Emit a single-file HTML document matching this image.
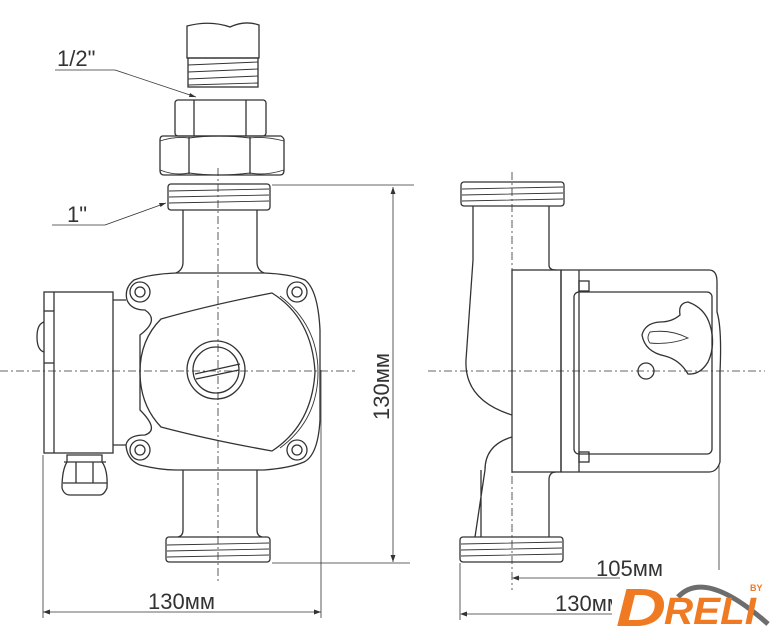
<!DOCTYPE html>
<html><head><meta charset="utf-8"><style>
html,body{margin:0;padding:0;background:#fff;}
svg{display:block;}
text{font-family:"Liberation Sans",sans-serif;fill:#333;}
</style></head><body>
<svg width="783" height="640" viewBox="0 0 783 640" xmlns="http://www.w3.org/2000/svg">
<g fill="none" stroke="#333" stroke-width="1.3">
<line x1="0" y1="371" x2="355" y2="371" stroke-dasharray="8,3,2,3" stroke-width="0.8"/>
<line x1="218" y1="168" x2="218" y2="582" stroke-dasharray="8,3,2,3" stroke-width="0.8"/>
<line x1="428" y1="371" x2="765" y2="371" stroke-dasharray="8,3,2,3" stroke-width="0.8"/>
<line x1="512" y1="172" x2="512" y2="590" stroke-dasharray="8,3,2,3" stroke-width="0.8"/>

<path d="M187,58 V26 Q210,20 230,27 Q245,20 259,25 V58 Z"/>
<rect x="188" y="58" width="70" height="29"/>
<path d="M188,65 L258,62 M188,72 L258,69 M188,79 L258,76 M188,85 L258,83" stroke-width="0.9"/>
<rect x="175" y="100" width="91" height="36" rx="3"/>
<line x1="194" y1="100" x2="194" y2="136"/><line x1="246" y1="100" x2="246" y2="136"/>
<path d="M163,136 H281 Q284,138 284,140 V170 Q284,175 280,175 H164 Q160,175 160,170 V140 Q160,136 163,136 Z"/>
<line x1="189" y1="137" x2="189" y2="174"/><line x1="250" y1="137" x2="250" y2="174"/>
<path d="M160,141 Q175,136 189,138 Q218,134 250,138 Q265,136 284,141 M160,170 Q175,176 189,173 Q218,177 250,173 Q265,176 284,170" stroke-width="0.9"/>
<rect x="168" y="184" width="102" height="26" rx="3"/>
<path d="M169,191 L269,189 M169,197 L269,195 M169,203 L269,201" stroke-width="0.9"/>
<path d="M183,210 V262 Q183,270 176,273 M257,210 V262 Q257,270 264,273"/>
<path d="M176,273 Q150,274 134,280 Q124,288 127,300 Q131,310 145,310 Q160,320 140,335 L140,410 Q160,430 145,435 Q128,435 126,445 Q127,460 140,465 Q160,470 176,470 L264,470 Q290,468 304,462 Q318,455 320,420 L320,330 Q318,290 305,280 Q290,274 264,273 Z"/>
<path d="M113,300 L126,300 M113,445 L126,445"/>
<circle cx="140" cy="292" r="10"/><circle cx="140" cy="292" r="5"/>
<circle cx="297" cy="292" r="10"/><circle cx="297" cy="292" r="5"/>
<circle cx="140" cy="450" r="10"/><circle cx="140" cy="450" r="5"/>
<circle cx="297" cy="450" r="10"/><circle cx="297" cy="450" r="5"/>
<path d="M161,319 Q210,305 272,293 Q312,318 315,372 Q312,425 272,451 Q210,440 161,427 Q140,405 140,372 Q140,340 161,319 Z"/>
<path d="M280,296 Q318,325 318,372 Q318,420 280,448" stroke-width="0.9"/>
<circle cx="216" cy="370" r="29"/><circle cx="216" cy="370" r="23"/>
<path d="M195,374 L240,364 M196,379 L239,370"/>
<rect x="44" y="292" width="69" height="161"/>
<line x1="54" y1="292" x2="54" y2="453"/>
<line x1="44" y1="311" x2="54" y2="311"/><line x1="44" y1="363" x2="54" y2="363"/>
<path d="M44,322 Q37,324 37,337 Q37,350 44,352"/>
<path d="M67,455 H102 V462 Q108,470 107,488 Q104,495 100,495 H70 Q64,495 62,488 Q62,470 67,462 Z"/>
<line x1="76" y1="462" x2="76" y2="483"/><line x1="93" y1="462" x2="93" y2="483"/><line x1="64" y1="462" x2="106" y2="462"/><line x1="63" y1="483" x2="107" y2="483"/>
<path d="M183,470 V530 Q183,536 178,537 M257,470 V530 Q257,536 262,537"/>
<rect x="166" y="537" width="104" height="25" rx="3"/>
<path d="M167,545 L269,543 M167,551 L269,549 M167,557 L269,555" stroke-width="0.9"/>

<g stroke-width="0.8">
<line x1="43" y1="455" x2="43" y2="618"/><line x1="321" y1="370" x2="321" y2="618"/>
<line x1="43" y1="612" x2="321" y2="612"/>
<line x1="272" y1="185" x2="414" y2="185"/><line x1="272" y1="563" x2="410" y2="563"/>
<line x1="393" y1="187" x2="393" y2="562"/>
<line x1="55" y1="70" x2="115" y2="70"/><line x1="115" y1="70" x2="196" y2="97"/>
<line x1="52" y1="225" x2="105" y2="225"/><line x1="105" y1="225" x2="166" y2="203"/>
</g>
<rect x="461" y="182" width="103" height="24" rx="3"/>
<path d="M462,189 L563,187 M462,195 L563,193 M462,201 L563,199" stroke-width="0.9"/>
<path d="M473,206 V260 Q470,300 466,360 Q464,400 512,415 M549,206 V265 Q549,270 556,270"/>
<path d="M512,437 Q485,445 485,470 L475,537 M549,537 V480 Q549,472 556,472 M481,470 V537"/>
<rect x="512" y="270" width="49" height="202"/>
<line x1="561" y1="270" x2="561" y2="472"/><line x1="579" y1="270" x2="579" y2="472"/>
<path d="M561,270 H709 Q717,270 717,282 V312 Q722,328 720,372 V462 Q717,472 709,472 H561"/>
<rect x="574" y="292" width="138" height="162" rx="5"/>
<rect x="579" y="281" width="10" height="10"/><rect x="579" y="452" width="10" height="10"/>
<path d="M642,335 Q645,323 660,322 Q672,322 680,315 Q678,303 688,302 Q705,308 710,325 Q716,345 708,362 Q700,375 688,374 Q680,360 665,356 Q645,352 642,335 Z"/>
<path d="M650,332 Q670,329 688,338 Q670,345 650,343 Q646,338 650,332 Z" stroke-width="0.9"/>
<circle cx="646" cy="371" r="8"/>
<rect x="460" y="537" width="103" height="25" rx="3"/>
<path d="M461,544 L562,542 M461,550 L562,548 M461,556 L562,554" stroke-width="0.9"/>
<g stroke-width="0.8">
<line x1="719" y1="465" x2="719" y2="570"/><line x1="460" y1="563" x2="460" y2="620"/>
<line x1="514" y1="578" x2="620" y2="578"/><line x1="462" y1="614" x2="620" y2="614"/>
</g>
</g>
<g fill="#333">
<path d="M43,612 l7,-2.5 v5 Z"/><path d="M321,612 l-7,-2.5 v5 Z"/>
<path d="M393,187 l-2.5,7 h5 Z"/><path d="M393,562 l-2.5,-7 h5 Z"/>
<path d="M512,578 l7,-2.5 v5 Z"/><path d="M460,614 l7,-2.5 v5 Z"/>
<path d="M196,97 l-6,-4 l-1,4 Z"/><path d="M166,203 l-7,0 l1.5,4 Z"/>
</g>
<text x="57" y="66" font-size="22">1/2"</text>
<text x="67" y="222" font-size="22">1"</text>
<text x="148" y="609" font-size="22">130мм</text>
<text transform="translate(389,420) rotate(-90)" font-size="22">130мм</text>
<text x="596" y="576" font-size="22">105мм</text>
<text x="555" y="611" font-size="22">130мм</text>
<rect x="612" y="580" width="171" height="60" fill="#fff"/>
<path d="M678,597 Q705,568 768,624" fill="none" stroke="#6d6d6d" stroke-width="5"/>
<text x="616" y="626" font-size="54" font-weight="bold" font-style="italic" textLength="50" lengthAdjust="spacingAndGlyphs" style="fill:#f07a22">D</text>
<text x="664" y="624" font-size="38" font-weight="bold" font-style="italic" textLength="92" lengthAdjust="spacingAndGlyphs" style="fill:#f07a22">RELI</text>
<text x="750" y="591" font-size="9" font-weight="bold" style="fill:#f07a22">BY</text>
</g>
</svg>
</body></html>
